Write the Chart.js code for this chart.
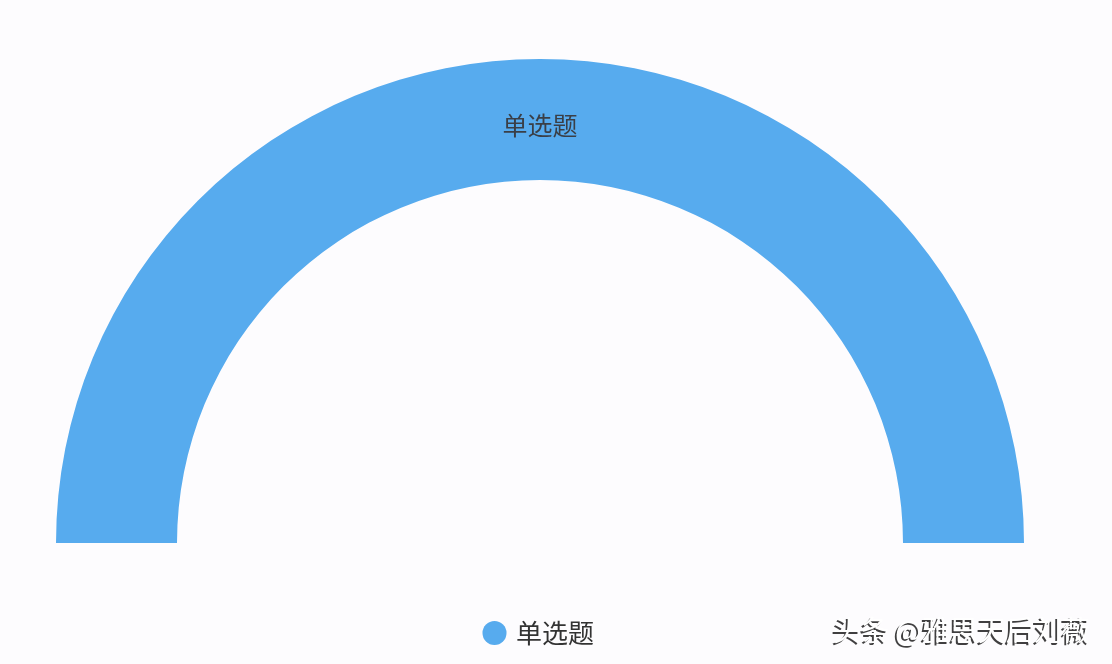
<!DOCTYPE html>
<html>
<head>
<meta charset="utf-8">
<script src="https://cdn.jsdelivr.net/npm/chart.js@4/dist/chart.umd.min.js"></script>
<style>
  body { margin: 0; background: #fdfcfe; }
  #wrap { position: relative; width: 1112px; height: 664px; }
</style>
</head>
<body>
<div id="wrap"><canvas id="gauge" width="1112" height="664"></canvas></div>
<script>
const labels = ['单选题'];
const values = [100];
const colors = ['#57abee'];
const watermark = '头条 @雅思天后刘薇';

// draws the category name on the arc itself
const arcLabel = {
  id: 'arcLabel',
  afterDatasetsDraw(chart) {
    const ctx = chart.ctx;
    chart.getDatasetMeta(0).data.forEach((arc, i) => {
      const p = arc.tooltipPosition();
      ctx.save();
      ctx.font = '25px "Noto Sans CJK SC"';
      ctx.fillStyle = '#3a3f47';
      ctx.textAlign = 'center';
      ctx.textBaseline = 'middle';
      ctx.fillText(labels[i], p.x, p.y + 6);
      ctx.restore();
    });
  },
  afterDraw(chart) {
    const ctx = chart.ctx;
    ctx.save();
    ctx.font = '28px "Noto Sans CJK SC"';
    ctx.textBaseline = 'middle';
    ctx.fillStyle = 'rgba(0,0,0,0.75)';
    ctx.fillText(watermark, 831, 632);
    ctx.fillStyle = '#ffffff';
    ctx.fillText(watermark, 833, 630);
    ctx.restore();
  }
};

new Chart(document.getElementById('gauge').getContext('2d'), {
  type: 'doughnut',
  data: {
    labels: labels,
    datasets: [{
      data: values,
      backgroundColor: colors,
      borderWidth: 0
    }]
  },
  options: {
    responsive: false,
    animation: false,
    rotation: -90,
    circumference: 180,
    cutout: '75%',
    layout: { padding: { left: 20, right: 52, top: 59, bottom: 8 } },
    plugins: {
      tooltip: { enabled: false },
      legend: {
        position: 'bottom',
        labels: {
          usePointStyle: true,
          pointStyle: 'circle',
          boxWidth: 17,
          boxHeight: 17,
          padding: 77,
          color: '#333333',
          font: { size: 26, family: '"Noto Sans CJK SC"' }
        }
      }
    }
  },
  plugins: [arcLabel]
});
</script>
</body>
</html>
